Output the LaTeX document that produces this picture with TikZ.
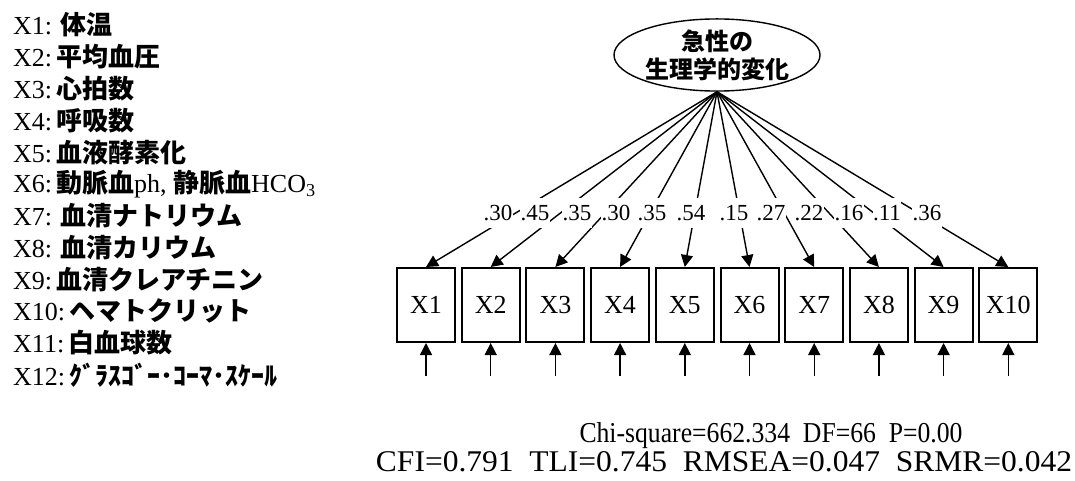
\documentclass[tikz,border=0pt]{standalone}
\usepackage{graphicx}
\usepackage{fontspec}
\setmainfont{Liberation Serif}
\newfontfamily\jp{Noto Sans CJK JP}
\usetikzlibrary{arrows.meta,shapes.geometric}
\newcommand\jb[1]{{\jp\bfseries #1}}
\newcommand\cs{\hspace{4pt}}
\newcommand\cw{\hspace{8pt}}
\begin{document}
\begin{tikzpicture}[x=1pt,y=-1pt,
  conn/.style={line width=1.4pt,-{Triangle[length=12pt,width=12pt]}},
  obs/.style={draw,line width=2pt,minimum width=58pt,minimum height=74pt,inner sep=0pt,font=\fontsize{26}{26}\selectfont},
  coef/.style={fill=white,inner xsep=0.5pt,inner ysep=0pt,minimum height=30pt,font=\fontsize{23}{23}\selectfont},
  item/.style={anchor=west,inner sep=0pt,font=\fontsize{26}{26}\selectfont},
  lat/.style={draw,ellipse,line width=1.4pt,minimum width=206pt,minimum height=70pt,inner sep=0pt,align=center,font=\jp\bfseries\fontsize{24}{28}\selectfont},
  fit/.style={inner sep=0pt,font=\fontsize{30}{30}\selectfont}
]
\useasboundingbox (0,0) rectangle (1075,481);
\fill[white] (0,0) rectangle (1075,481);

% variable list
\node[item] (t1) at (13,25) {X1:\cw\jb{体温}};
\node[item] (t2) at (13,56.8) {X2:\cs\jb{平均血圧}};
\node[item] (t3) at (13,88.6) {X3:\cs\jb{心拍数}};
\node[item] (t4) at (13,120.4) {X4:\cs\jb{呼吸数}};
\node[item] (t5) at (13,152.2) {X5:\cs\jb{血液酵素化}};
\node[item] (t6) at (13,184) {X6:\cs\jb{動脈血}ph, \jb{静脈血}HCO\textsubscript{3}};
\node[item] (t7) at (13,215.8) {X7:\cw\jb{血清ナトリウム}};
\node[item] (t8) at (13,247.6) {X8:\cw\jb{血清カリウム}};
\node[item] (t9) at (13,279.4) {X9:\cs\jb{血清クレアチニン}};
\node[item] (t10) at (13,311.2) {X10:\cs\jb{ヘマトクリット}};
\node[item] (t11) at (13,343) {X11:\cs\jb{白血球数}};
\node[item] (t12) at (13,374.8) {X12:\cs\jb{ｸﾞﾗｽｺﾞｰ･ｺｰﾏ･ｽｹｰﾙ}};

% latent variable
\node[lat] (L) at (717,55) {急性の\\生理学的変化};

% observed variables
\foreach \i in {1,...,10} {
  \node[obs] (b\i) at ({426+64.7*(\i-1)},305) {X\i};
  \coordinate (e\i) at ({426+64.7*(\i-1)},376);
  \draw[conn] (L.south) -- (b\i.north);
  \draw[conn] (e\i) -- (b\i.south);
}

% loadings
\foreach \v/\x [count=\k] in {.30/498,.45/535,.35/577,.30/616,.35/652,.54/691,.15/734,.27/771,.22/809,.16/849,.11/887,.36/927}
  \node[coef] (c\k) at (\x,213) {\v};

% fit statistics
\node[fit] (chi) at (771,436) {\resizebox{383pt}{20pt}{Chi-square=662.334\ \ DF=66\ \ P=0.00}};
\node[fit] (cfi) at (724,462) {\resizebox{696pt}{20pt}{CFI=0.791\ \ TLI=0.745\ \ RMSEA=0.047\ \ SRMR=0.042}};
\end{tikzpicture}
\end{document}
